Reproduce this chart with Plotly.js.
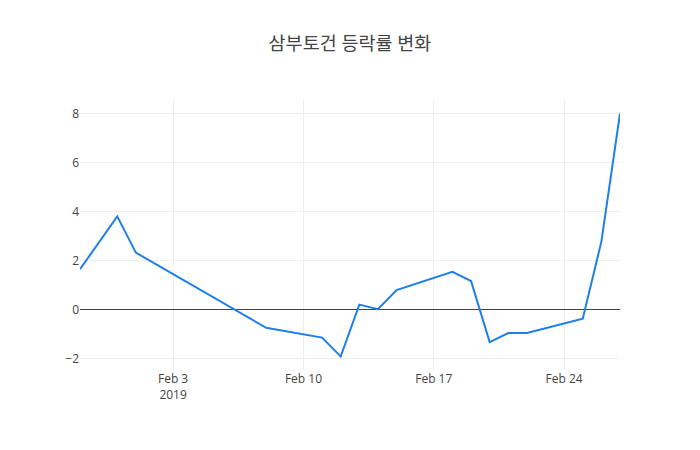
<!DOCTYPE html>
<html>
<head>
<meta charset="utf-8">
<script src="https://cdn.plot.ly/plotly-3.0.1.min.js"></script>
<style>
    body { margin: 0; }
    #chart { width: 700px; height: 450px; }
</style>
</head>
<body>
<div id="chart"></div>
<script>
const TRADE_DATES = [
    "2019-01-29", "2019-01-31", "2019-02-01", "2019-02-08", "2019-02-11",
    "2019-02-12", "2019-02-13", "2019-02-14", "2019-02-15", "2019-02-18",
    "2019-02-19", "2019-02-20", "2019-02-21", "2019-02-22", "2019-02-25",
    "2019-02-26", "2019-02-27",
];
const CHANGE_RATES = [
    1.64, 3.8, 2.32, -0.75, -1.15,
    -1.92, 0.2, 0.01, 0.79, 1.54,
    1.16, -1.33, -0.96, -0.96, -0.38,
    2.77, 8.0,
];
const CHART_TITLE = "삼부토건 등락률 변화";

const traces = [{
    type: "scatter",
    mode: "lines",
    x: TRADE_DATES,
    y: CHANGE_RATES,
    line: { color: "#1f7fe8", width: 2 },
}];

Plotly.newPlot("chart", traces, {
    width: 700,
    height: 450,
    title: { text: CHART_TITLE, font: { size: 18.5, color: "#444" } },
    font: { family: "\"Open Sans\", \"Noto Sans CJK KR\", sans-serif" },
    xaxis: { showgrid: true, gridcolor: "#eee" },
    yaxis: { gridcolor: "#eee", zeroline: true, zerolinecolor: "#444", zerolinewidth: 1 },
    showlegend: false,
}, { displayModeBar: false });
</script>
</body>
</html>
